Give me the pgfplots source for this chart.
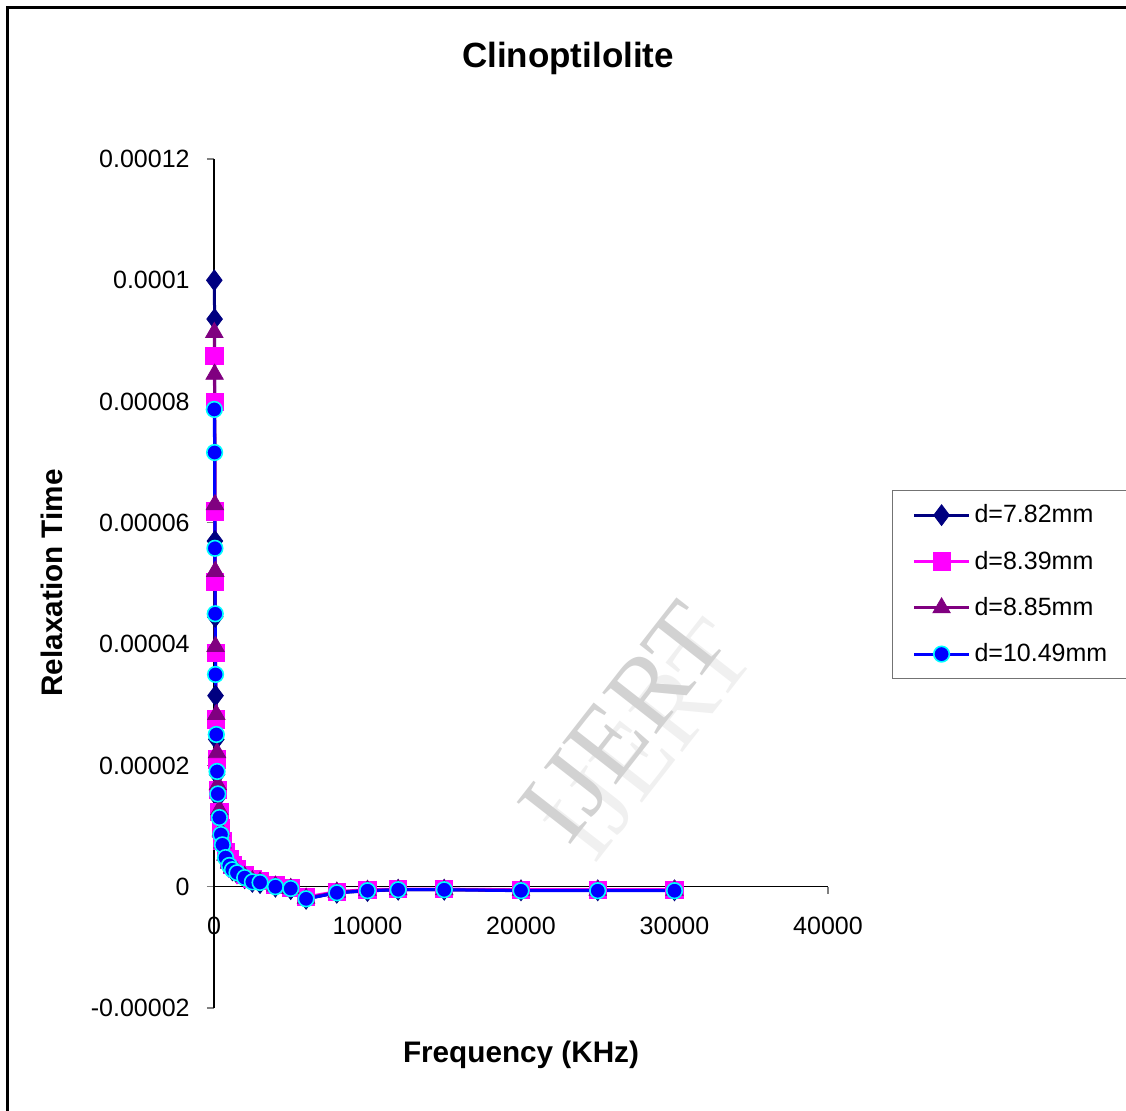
\documentclass[border=0pt]{standalone}
\usepackage{pgfplots}
\usepackage{pgfplotstable}
\pgfplotsset{compat=1.18}
\usepackage{fontspec}
\setmainfont{Liberation Sans}
\newfontfamily\wmfont{Liberation Serif}
\definecolor{navyc}{HTML}{000080}
\definecolor{magc}{HTML}{FF00FF}
\definecolor{purc}{HTML}{800080}
\definecolor{bluc}{HTML}{0000FF}
\definecolor{cyac}{HTML}{00FFFF}

\pgfplotstableread{
x      a        b        c        d
20     1.0e-4   8.75e-5  9.14e-5  7.87e-5
40     9.36e-5  7.99e-5  8.45e-5  7.16e-5
60     5.70e-5  6.19e-5  6.30e-5  5.58e-5
80     4.45e-5  5.02e-5  5.20e-5  4.50e-5
100    3.15e-5  3.86e-5  3.96e-5  3.50e-5
150    2.43e-5  2.76e-5  2.84e-5  2.51e-5
200    1.85e-5  2.10e-5  2.21e-5  1.90e-5
250    1.47e-5  1.60e-5  1.68e-5  1.53e-5
350    1.10e-5  1.24e-5  1.27e-5  1.14e-5
450    8.4e-6   9.6e-6   9.2e-6   8.6e-6
550    6.7e-6   7.6e-6   7.2e-6   6.9e-6
750    4.7e-6   5.8e-6   5.2e-6   4.8e-6
1000   3.4e-6   4.5e-6   3.9e-6   3.5e-6
1200   2.7e-6   3.6e-6   3.1e-6   2.8e-6
1500   2.2e-6   2.9e-6   2.5e-6   2.3e-6
2000   1.4e-6   2.0e-6   1.7e-6   1.5e-6
2500   8e-7     1.3e-6   1.0e-6   8e-7
3000   6e-7     1.0e-6   8e-7     7e-7
4000   0        3e-7     1e-7     0
5000   -4e-7    -2e-7    -3e-7    -3e-7
6000   -2.0e-6  -1.7e-6  -1.9e-6  -2.0e-6
8000   -1.0e-6  -8e-7    -9e-7    -1.0e-6
10000  -7e-7    -5e-7    -6e-7    -6.6e-7
12000  -5e-7    -4e-7    -5e-7    -5e-7
15000  -5e-7    -4e-7    -5e-7    -5e-7
20000  -6e-7    -5e-7    -6e-7    -6.6e-7
25000  -6e-7    -5e-7    -6e-7    -6.6e-7
30000  -6e-7    -5e-7    -6e-7    -6.6e-7
}\datatable

\begin{document}
\begin{tikzpicture}
\useasboundingbox (-107pt,-51.5pt) rectangle (456pt,504pt);
% watermark
\node[rotate=52, text=gray!12, font=\wmfont\fontsize{52}{52}\selectfont] at (218pt,134pt) {IJERT};
\node[rotate=52, text=gray!35, font=\wmfont\fontsize{52}{52}\selectfont] at (205pt,143pt) {IJERT};
\begin{axis}[
  scale only axis,
  width=307pt, height=424.5pt,
  xmin=0, xmax=40000,
  ymin=-0.00002, ymax=0.00012,
  axis lines*=middle,
  axis line style={black, line width=0.6pt},
  clip=false,
  scaled ticks=false,
  hide obscured x ticks=false,
  hide obscured y ticks=false,
  tick align=outside,
  major tick length=3.5pt,
  tick style={gray, line width=0.6pt},
  xtick={0,10000,20000,30000,40000},
  xticklabels={0,10000,20000,30000,40000},
  ytick={-0.00002,0,0.00002,0.00004,0.00006,0.00008,0.0001,0.00012},
  yticklabels={-0.00002,0,0.00002,0.00004,0.00006,0.00008,0.0001,0.00012},
  ticklabel style={font=\fontsize{12.5}{14}\selectfont},
  xticklabel style={anchor=north, inner sep=0pt, yshift=-11.5pt},
  yticklabel style={anchor=east, inner sep=0pt, xshift=-8.5pt},
  legend style={at={(rel axis cs:1.1042,0.6101)}, anchor=north west,
    draw=black!55, line width=0.6pt, font=\fontsize{12.5}{14}\selectfont,
    inner xsep=10pt, inner ysep=5pt, row sep=8.6pt},
  legend cell align=left,
  legend image code/.code={\draw[mark repeat=2,mark phase=2,#1] plot coordinates {(0pt,0pt) (13.75pt,0pt) (27.5pt,0pt)};},
]
\addplot[navyc, line width=1.5pt, mark=diamond*, mark size=5.2pt, mark options={solid, fill=navyc, draw=navyc, line width=0.4pt}] table[x=x,y=a] {\datatable};
\addlegendentry{d=7.82mm}
\addplot[magc, line width=1.5pt, mark=square*, mark size=4.3pt, mark options={solid, fill=magc, draw=magc, line width=0.4pt}] table[x=x,y=b] {\datatable};
\addlegendentry{d=8.39mm}
\addplot[purc, line width=1.5pt, mark=triangle*, mark size=5pt, mark options={solid, fill=purc, draw=purc, line width=0.4pt}] table[x=x,y=c] {\datatable};
\addlegendentry{d=8.85mm}
\addplot[bluc, line width=1.5pt, mark=*, mark size=3.9pt, mark options={solid, fill=bluc, draw=cyac, line width=0.8pt}] table[x=x,y=d] {\datatable};
\addlegendentry{d=10.49mm}
\end{axis}
\draw[black, line width=1.5pt] (-103pt,-52pt) -- (-103pt,500.25pt) -- (457pt,500.25pt);
\node[font=\fontsize{17.5}{20}\selectfont\bfseries] at (177pt,475pt) {Clinoptilolite};
\node[font=\fontsize{14.85}{18}\selectfont\bfseries] at (153.5pt,-23.5pt) {Frequency (KHz)};
\node[rotate=90, font=\fontsize{14.85}{18}\selectfont\bfseries] at (-81pt,212.5pt) {Relaxation Time};
\end{tikzpicture}
\end{document}
